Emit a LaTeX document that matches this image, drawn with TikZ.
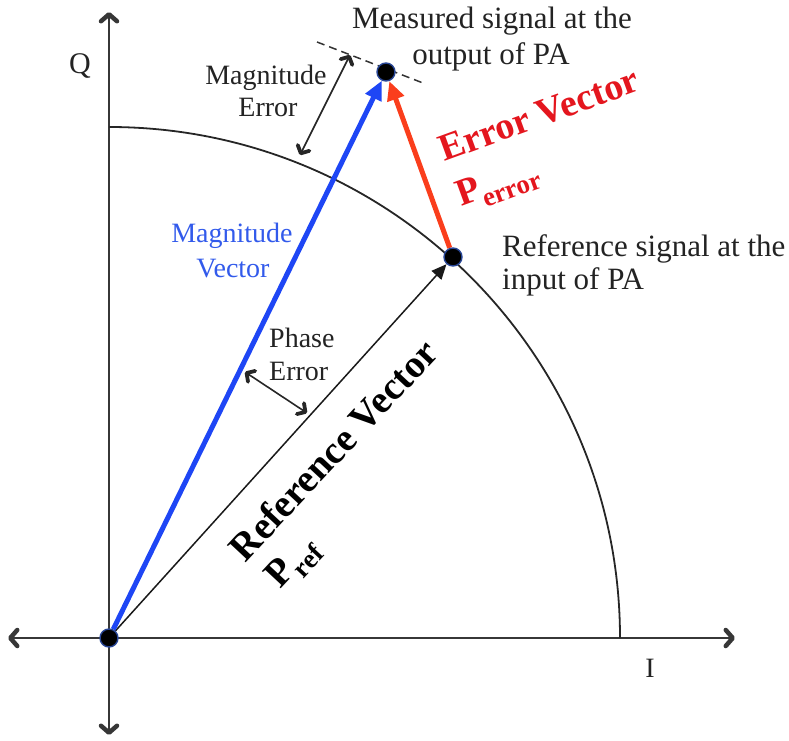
\documentclass[tikz,border=0pt]{standalone}
\usepackage{fontspec}
\setmainfont{Liberation Serif}
\usetikzlibrary{arrows.meta}
\pgfdeclarelayer{bg}
\pgfsetlayers{bg,main}
\definecolor{axisgray}{RGB}{55,55,55}
\definecolor{txt}{RGB}{35,35,35}
\definecolor{vblue}{RGB}{30,70,245}
\definecolor{tblue}{RGB}{50,90,235}
\definecolor{verr}{RGB}{250,62,28}
\definecolor{terr}{RGB}{228,22,30}
\definecolor{halo}{RGB}{40,70,150}
\begin{document}
\begin{tikzpicture}[x=1pt,y=1pt,
  axisline/.style={draw=axisgray, line width=2pt,
    {Straight Barb[length=7pt,width=16pt,line width=4.5pt,round]}-{Straight Barb[length=7pt,width=16pt,line width=4.5pt,round]}},
  arcline/.style={draw=black!85, line width=1.8pt},
  dotnode/.style={circle, fill=black, draw=halo, line width=1.4pt, minimum size=18pt, inner sep=0pt},
  refvec/.style={draw=black!90, line width=1.5pt, -{Triangle[length=15pt,width=13pt]}},
  magvec/.style={draw=vblue, line width=5pt, -{Triangle[length=19pt,width=17pt]}},
  errvec/.style={draw=verr, line width=5pt, -{Triangle[length=19pt,width=17pt]}},
  dashline/.style={draw=black!80, line width=1.5pt, dash pattern=on 8pt off 5pt},
  errarrow/.style={draw=black!85, line width=1.6pt,
    {Straight Barb[length=6pt,width=13pt,line width=3.8pt,round]}-{Straight Barb[length=6pt,width=13pt,line width=3.8pt,round]}},
  bigtxt/.style={text=txt, font=\fontsize{31}{36}\selectfont, inner sep=0pt},
  midtxt/.style={text=txt, font=\fontsize{28}{32}\selectfont, inner sep=0pt},
  bluetxt/.style={text=tblue, font=\fontsize{28}{32}\selectfont, inner sep=0pt},
  redbold/.style={text=terr, font=\fontsize{38}{42}\selectfont\bfseries, inner sep=0pt},
  blackbold/.style={text=black, font=\fontsize{39}{44}\selectfont\bfseries, inner sep=0pt}
]
\useasboundingbox (0,0) rectangle (789,740);

% axes and helper points
\coordinate (xl) at (8,102);
\coordinate (xr) at (735,102);
\coordinate (yb) at (109,5);
\coordinate (yt) at (109,728);
\coordinate (d1) at (317,698);
\coordinate (d2) at (423,657);
\coordinate (me1) at (350,685);
\coordinate (me2) at (300,585);
\coordinate (pe1) at (245,368);
\coordinate (pe2) at (307,327);

% signal points
\node[dotnode] (O) at (109,102) {};
\node[dotnode] (R) at (453,483) {};
\node[dotnode] (M) at (386,668) {};

\begin{pgfonlayer}{bg}
\draw[axisline] (xl) -- (xr);
\draw[axisline] (yb) -- (yt);
\draw[arcline] (620,102) arc[start angle=0, end angle=90, radius=511];
\draw[dashline] (d1) -- (d2);
\draw[refvec] (O) -- (R);
\draw[magvec] (O) -- (M);
\draw[errvec] (R) -- (M);
\draw[errarrow] (me1) -- (me2);
\draw[errarrow] (pe1) -- (pe2);
\end{pgfonlayer}

% labels
\node[midtxt, font=\fontsize{30}{34}\selectfont] (qlab) at (80,674) {Q};
\node[midtxt] (ilab) at (650,72) {I};

\node[bigtxt, anchor=base] (meas1) at (492,711) {Measured signal at the};
\node[bigtxt, anchor=base] (meas2) at (491,675) {output of PA};

\node[bigtxt, anchor=base west] (ref1) at (502,483) {Reference signal at the};
\node[bigtxt, anchor=base west] (ref2) at (502,450) {input of PA};

\node[midtxt, anchor=base] (merr1) at (266,655) {Magnitude};
\node[midtxt, anchor=base] (merr2) at (268,623) {Error};

\node[bluetxt, anchor=base] (mv1) at (232,497) {Magnitude};
\node[bluetxt, anchor=base] (mv2) at (233,462) {Vector};

\node[midtxt, anchor=base west] (pe1t) at (269,393) {Phase};
\node[midtxt, anchor=base west] (pe2t) at (269,360) {Error};

\node[redbold, anchor=base, rotate=20] (evlab) at (543,614) {Error Vector};
\node[redbold, anchor=base west, rotate=20] (perr) at (461,533)
  {P\raisebox{-0.25em}{\fontsize{27}{29}\selectfont error}};

\node[blackbold, anchor=base, rotate=47] (rvlab) at (343,281) {Reference Vector};
\node[blackbold, anchor=base west, rotate=47] (pref) at (280,150)
  {P\raisebox{-0.25em}{\fontsize{27}{29}\selectfont ref}};
\end{tikzpicture}
\end{document}
